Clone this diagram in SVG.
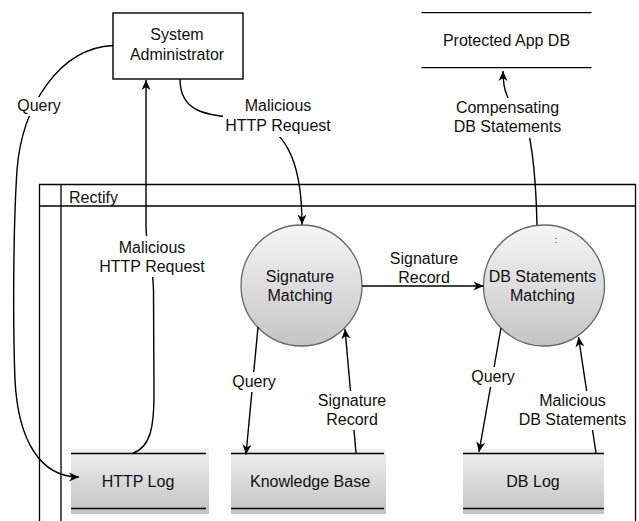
<svg xmlns="http://www.w3.org/2000/svg" width="639" height="521" viewBox="0 0 639 521">
<defs>
<linearGradient id="gc" x1="0" y1="0" x2="0" y2="1">
<stop offset="0" stop-color="#f6f6f6"/>
<stop offset="1" stop-color="#c4c4c4"/>
</linearGradient>
<linearGradient id="gs" x1="0" y1="0" x2="0" y2="1">
<stop offset="0" stop-color="#f0f0f0"/>
<stop offset="1" stop-color="#c2c2c2"/>
</linearGradient>
<marker id="ar" markerUnits="userSpaceOnUse" markerWidth="11" markerHeight="10" refX="10" refY="5" orient="auto">
<path d="M0,0.5 L10,5 L0,9.5 L3,5 Z" fill="#000"/>
</marker>
</defs>
<style>
text{font-family:"Liberation Sans",Arial,sans-serif;font-size:16px;fill:#111;text-anchor:middle}
.ln{fill:none;stroke:#000;stroke-width:1.4}
.fr{fill:none;stroke:#000;stroke-width:1.3}
.cir{fill:url(#gc);stroke:#666;stroke-width:1.3}
.st{fill:url(#gs);stroke:none}
.bg{fill:#fff}
</style>
<rect width="639" height="521" fill="#fff"/>

<g id="rectify">
<path class="fr" d="M39.5,521 V184.5 H635.5 V521 M61,521 V184.5 M39.5,206 H635.5"/>
<text x="69" y="202.5" style="text-anchor:start">Rectify</text>
</g>

<g id="sysadmin">
<rect x="113" y="13" width="130" height="66" fill="#fff" stroke="#000" stroke-width="1.4"/>
<text x="177" y="40">System</text>
<text x="177" y="59.5">Administrator</text>
</g>

<g id="protected-db">
<path class="fr" d="M421.5,12.7 H591.5 M421.5,67.7 H591.5"/>
<text x="506.5" y="45.5">Protected App DB</text>
</g>

<g id="signature-matching">
<circle class="cir" cx="301.5" cy="285.5" r="60.5"/>
<text x="300" y="281.5">Signature</text>
<text x="300" y="301">Matching</text>
</g>

<g id="db-statements-matching">
<circle class="cir" cx="544" cy="285.5" r="60.5"/>
<text x="556" y="243" style="font-size:9px">:</text>
<text x="542.5" y="281.5">DB Statements</text>
<text x="542.5" y="301">Matching</text>
</g>

<g id="http-log">
<rect class="st" x="71" y="449" width="138" height="65"/>
<path class="fr" d="M71,453.5 H206 M71,508.5 H206"/>
<text x="138" y="486.7">HTTP Log</text>
</g>

<g id="knowledge-base">
<rect class="st" x="231" y="449" width="155" height="65"/>
<path class="fr" d="M231,453.5 H384 M231,508.5 H384"/>
<text x="310" y="486.7">Knowledge Base</text>
</g>

<g id="db-log">
<rect class="st" x="463" y="449" width="141" height="65"/>
<path class="fr" d="M463,453.5 H604 M463,508.5 H604"/>
<text x="533" y="486.7">DB Log</text>
</g>

<g id="connectors">
<path class="ln" marker-end="url(#ar)" d="M113,45.5 C60,48 22,105 17,170 C13,230 13,330 15,380 C18,440 40,477 79,477"/>
<rect class="bg" x="16" y="97" width="47" height="19"/>
<text x="39" y="111">Query</text>

<path class="ln" marker-end="url(#ar)" d="M133,453 C151,447 154,425 154,395 L153.5,290 C153,262 146,250 146,225 L146,80"/>
<rect class="bg" x="96" y="236" width="112" height="41"/>
<text x="152" y="252.7">Malicious</text>
<text x="152" y="271.7">HTTP Request</text>

<path class="ln" marker-end="url(#ar)" d="M180,79 C180,112 205,115 240,118 C285,122 302,160 302,224.5"/>
<rect class="bg" x="223" y="97" width="111" height="40"/>
<text x="278" y="111">Malicious</text>
<text x="278" y="130.7">HTTP Request</text>

<path class="ln" marker-end="url(#ar)" d="M362,286 L483.5,286"/>
<text x="424" y="264.3">Signature</text>
<text x="424" y="283.3">Record</text>

<path class="ln" marker-end="url(#ar)" d="M537,225 C536,180 533,150 527,125 C517,105 503,105 503,71"/>
<rect class="bg" x="455" y="98" width="106" height="40"/>
<text x="507.5" y="113">Compensating</text>
<text x="507.5" y="132">DB Statements</text>

<path class="ln" marker-end="url(#ar)" d="M258,327 L246,454.5"/>
<rect class="bg" x="231" y="372" width="47" height="20"/>
<text x="254" y="386.7">Query</text>

<path class="ln" marker-end="url(#ar)" d="M356,453 L345,329"/>
<rect class="bg" x="316" y="391" width="72" height="39"/>
<text x="352" y="405.7">Signature</text>
<text x="352" y="425">Record</text>

<path class="ln" marker-end="url(#ar)" d="M501,328 L479,452"/>
<rect class="bg" x="470" y="367" width="47" height="20"/>
<text x="493" y="382.3">Query</text>

<path class="ln" marker-end="url(#ar)" d="M596,453 L578.5,337"/>
<rect class="bg" x="518" y="391" width="110" height="39"/>
<text x="572.5" y="405.7">Malicious</text>
<text x="572.5" y="425">DB Statements</text>
</g>
</svg>
